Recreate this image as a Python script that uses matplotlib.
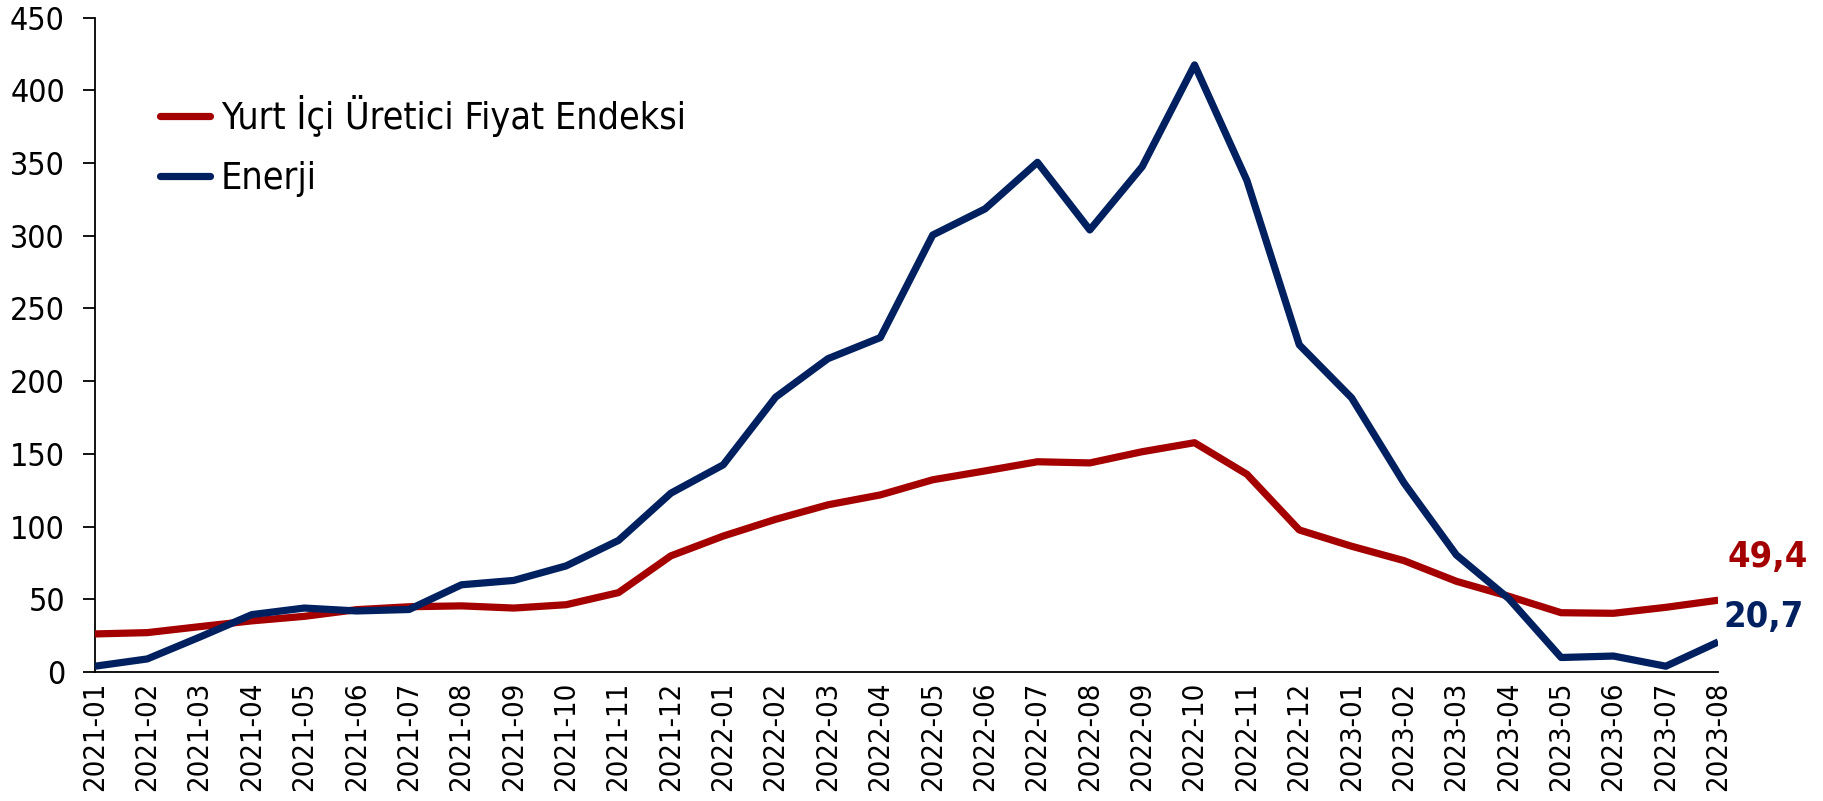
import matplotlib
matplotlib.use("Agg")
import matplotlib.pyplot as plt
from matplotlib.ticker import MultipleLocator

months = ["2021-01", "2021-02", "2021-03", "2021-04", "2021-05", "2021-06",
          "2021-07", "2021-08", "2021-09", "2021-10", "2021-11", "2021-12",
          "2022-01", "2022-02", "2022-03", "2022-04", "2022-05", "2022-06",
          "2022-07", "2022-08", "2022-09", "2022-10", "2022-11", "2022-12",
          "2023-01", "2023-02", "2023-03", "2023-04", "2023-05", "2023-06",
          "2023-07", "2023-08"]

ppi = [26.2, 27.1, 31.2, 35.2, 38.3, 42.9, 44.9, 45.5, 44.0, 46.3, 54.6, 79.9,
       93.5, 105.0, 115.0, 121.8, 132.2, 138.3, 144.6, 143.8, 151.5, 157.7,
       136.0, 97.7, 86.5, 76.6, 62.4, 52.1, 40.8, 40.4, 44.5, 49.4]

energy = [4.0, 9.0, 24.0, 39.5, 44.0, 42.0, 43.0, 60.0, 63.0, 73.0, 90.5, 123.0,
          142.5, 189.0, 215.5, 230.0, 300.5, 318.5, 350.5, 304.0, 347.5, 417.5,
          338.0, 225.0, 188.5, 130.0, 80.5, 50.5, 10.0, 11.0, 4.0, 20.7]

series_names = ["Yurt İçi Üretici Fiyat Endeksi", "Enerji"]
colors = ["#A50000", "#002060"]

plt.rcParams["font.family"] = ["DejaVu Sans"]
plt.rcParams["font.stretch"] = "condensed"

fig = plt.figure(figsize=(18.24, 8.01), dpi=100)
ax = fig.add_axes([0.052, 0.161, 0.890, 0.817])

x = list(range(len(months)))
ax.plot(x, ppi, color=colors[0], lw=5.2, solid_joinstyle="round",
        solid_capstyle="butt", label=series_names[0], zorder=3)
ax.plot(x, energy, color=colors[1], lw=5.2, solid_joinstyle="round",
        solid_capstyle="butt", label=series_names[1], zorder=3)

ax.set_xlim(0, len(months) - 1)
ax.set_ylim(0, 450)
ax.yaxis.set_major_locator(MultipleLocator(50))
ax.set_xticks(x)
ax.set_xticklabels(months, rotation=90)
ax.tick_params(axis="y", labelsize=23, length=8.5, width=1.3, pad=13)
ax.tick_params(axis="x", labelsize=21, length=0, pad=7)

for side in ("top", "right"):
    ax.spines[side].set_visible(False)
for side in ("left", "bottom"):
    ax.spines[side].set_linewidth(1.3)
    ax.spines[side].set_color("black")

ax.annotate(f"{ppi[-1]:.1f}".replace(".", ","), xy=(x[-1], ppi[-1]),
            xytext=(6.5, 31), textcoords="offset points", ha="left", va="center",
            fontsize=26, fontweight="bold", color=colors[0],
            annotation_clip=False)
ax.annotate(f"{energy[-1]:.1f}".replace(".", ","), xy=(x[-1], energy[-1]),
            xytext=(3.5, 18), textcoords="offset points", ha="left", va="center",
            fontsize=26, fontweight="bold", color=colors[1],
            annotation_clip=False)

leg = fig.legend(loc="upper left", bbox_to_anchor=(160 / 1824, 1 - 95 / 801),
                 bbox_transform=fig.transFigure, frameon=False, fontsize=27,
                 borderpad=0, borderaxespad=0, handlelength=1.33,
                 handletextpad=0.3, labelspacing=0.65)
for h in leg.get_lines():
    h.set_solid_capstyle("round")

fig.savefig("out.png", dpi=100)
